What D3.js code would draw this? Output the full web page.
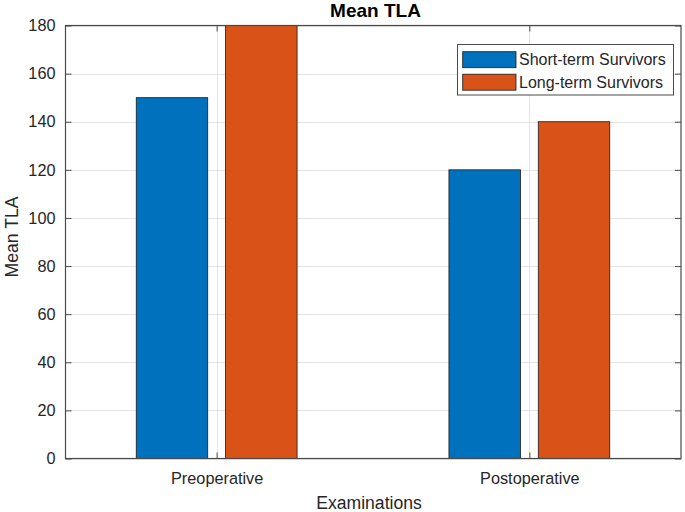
<!DOCTYPE html>
<html>
<head>
<meta charset="utf-8">
<script src="https://cdn.jsdelivr.net/npm/d3@7"></script>
<style>
  html, body { margin: 0; padding: 0; background: #fff; }
  svg { display: block; font-family: "Liberation Sans", Arial, Helvetica, sans-serif; }
</style>
</head>
<body>
<svg id="chart" width="685" height="512"></svg>
<script>
const categories = ["Preoperative", "Postoperative"];
const seriesNames = ["Short-term Survivors", "Long-term Survivors"];
const shortTerm = [150, 120];
const longTerm = [180, 140];
const yTicks = [0, 20, 40, 60, 80, 100, 120, 140, 160, 180];
const colors = ["#0072BD", "#D95319"];

const series = [shortTerm, longTerm];
const svg = d3.select("#chart");
const L = 65, R = 681, T = 25.5, B = 458.5;
const textColor = "#262626";
const axisColor = "#4a4a4a";
const gridColor = "#e3e3e3";

const x = d3.scaleLinear().domain([0.515, 2.485]).range([L, R]);
const y = d3.scaleLinear().domain([0, 180]).range([B, T]);

// grid
const g = svg.append("g");
g.selectAll("line.hg").data(yTicks).enter().append("line")
  .attr("x1", L).attr("x2", R)
  .attr("y1", d => Math.round(y(d)) + 0.5).attr("y2", d => Math.round(y(d)) + 0.5)
  .attr("stroke", gridColor).attr("stroke-width", 1);
g.selectAll("line.vg").data(categories).enter().append("line")
  .attr("x1", (d, i) => Math.round(x(i + 1)) + 0.5).attr("x2", (d, i) => Math.round(x(i + 1)) + 0.5)
  .attr("y1", T).attr("y2", B)
  .attr("stroke", gridColor).attr("stroke-width", 1);

// bars (MATLAB grouped layout)
const groupWidth = Math.min(0.8, 2 / (2 + 1.5));
const barW = 0.8 * groupWidth / 2;
series.forEach((vals, s) => {
  const off = (s === 0 ? -1 : 1) * groupWidth / 4;
  svg.append("g").selectAll("rect").data(vals).enter().append("rect")
    .attr("x", (d, i) => x(i + 1 + off - barW / 2))
    .attr("width", x(barW) - x(0))
    .attr("y", d => y(d))
    .attr("height", d => y(0) - y(d))
    .attr("fill", colors[s])
    .attr("stroke", "#1a1a1a").attr("stroke-width", 0.8);
});

// axes box
svg.append("rect").attr("x", L + 0.5).attr("y", T).attr("width", R - L - 0.5).attr("height", B - T)
  .attr("fill", "none").attr("stroke", axisColor).attr("stroke-width", 1.2);

// y axis with inward ticks (left) and right ticks
const yAxisL = d3.axisLeft(y).tickValues(yTicks).tickSizeInner(-6).tickSizeOuter(0).tickPadding(10);
const gy = svg.append("g").attr("transform", `translate(${L + 0.5},0)`).call(yAxisL);
gy.select(".domain").remove();
gy.selectAll("line").attr("stroke", axisColor);
gy.selectAll("text").attr("fill", textColor).attr("font-size", 16.3).attr("font-family", "Liberation Sans, Arial, sans-serif");

const yAxisR = d3.axisRight(y).tickValues(yTicks).tickSizeInner(-6).tickSizeOuter(0).tickFormat("");
const gyr = svg.append("g").attr("transform", `translate(${R},0)`).call(yAxisR);
gyr.select(".domain").remove();
gyr.selectAll("line").attr("stroke", axisColor);

// x axis
const xAxisB = d3.axisBottom(x).tickValues([1, 2]).tickFormat((d) => categories[d - 1])
  .tickSizeInner(-6).tickSizeOuter(0).tickPadding(14);
const gx = svg.append("g").attr("transform", `translate(0,${B})`).call(xAxisB);
gx.select(".domain").remove();
gx.selectAll("line").attr("stroke", axisColor);
gx.selectAll("text").attr("fill", textColor).attr("font-size", 16.3).attr("font-family", "Liberation Sans, Arial, sans-serif");

// top ticks
const xAxisT = d3.axisTop(x).tickValues([1, 2]).tickSizeInner(-6).tickSizeOuter(0).tickFormat("");
const gxt = svg.append("g").attr("transform", `translate(0,${T})`).call(xAxisT);
gxt.select(".domain").remove();
gxt.selectAll("line").attr("stroke", axisColor);

// title & labels
svg.append("text").attr("x", 375.5).attr("y", 17).attr("text-anchor", "middle")
  .attr("font-size", 19).attr("font-weight", "bold").attr("fill", "#000").text("Mean TLA");
svg.append("text").attr("x", 369).attr("y", 508.5).attr("text-anchor", "middle")
  .attr("font-size", 17.6).attr("fill", textColor).text("Examinations");
svg.append("text").attr("transform", "translate(18,237) rotate(-90)").attr("text-anchor", "middle")
  .attr("font-size", 17.6).attr("fill", textColor).text("Mean TLA");

// legend
const lg = svg.append("g");
lg.append("rect").attr("x", 457.5).attr("y", 44.5).attr("width", 216).attr("height", 50.5)
  .attr("fill", "#fff").attr("stroke", axisColor).attr("stroke-width", 1);
seriesNames.forEach((name, i) => {
  const cy = 59.7 + i * 22.5;
  lg.append("rect").attr("x", 462.7).attr("y", cy - 8).attr("width", 53.3).attr("height", 16)
    .attr("fill", colors[i]).attr("stroke", "#1a1a1a").attr("stroke-width", 0.8);
  lg.append("text").attr("x", 519).attr("y", cy).attr("dy", "0.35em")
    .attr("font-size", 16).attr("fill", textColor).text(name);
});
</script>
</body>
</html>
